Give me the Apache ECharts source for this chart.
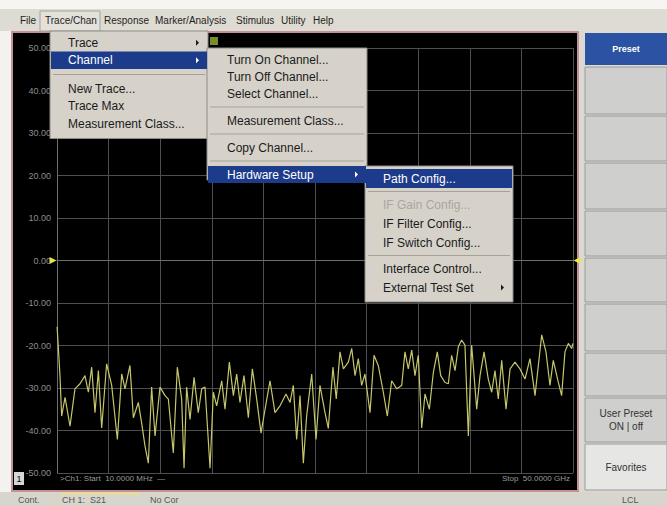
<!DOCTYPE html>
<html>
<head>
<meta charset="utf-8">
<style>
html,body{margin:0;padding:0;background:#dcd9d2;}
#chart{width:667px;height:506px;}
</style>
<script src="https://cdn.jsdelivr.net/npm/echarts@6/dist/echarts.min.js"></script>
</head>
<body>
<div id="chart"></div>
<script>
// ---------- data ----------
var freqGHz = [0.01,0.29,0.45,0.78,1.26,1.74,2.23,2.71,3.04,3.36,3.68,4.01,4.33,4.81,5.30,5.85,6.27,6.59,7.07,7.40,
  7.88,8.20,8.53,8.85,9.17,9.50,9.98,10.47,10.79,11.27,11.66,12.08,12.31,12.56,12.89,13.28,13.69,14.02,14.34,14.83,
  15.15,15.47,15.96,16.28,16.70,17.09,17.41,17.73,18.12,18.54,18.93,19.35,19.77,20.16,20.64,21.12,21.61,22.19,22.58,22.90,
  23.22,23.55,23.87,24.19,24.68,25.10,25.48,25.97,26.29,26.74,27.06,27.42,
  27.75,28.23,28.56,28.88,29.20,29.52,29.84,30.33,30.72,31.13,31.62,32.01,32.43,32.92,33.40,33.72,34.04,34.37,34.69,35.01,
  35.34,35.66,36.08,36.47,36.85,37.18,37.60,37.92,38.24,38.57,38.89,39.21,39.53,39.86,40.18,40.67,40.99,41.38,41.79,42.12,
  42.44,42.76,43.09,43.51,43.90,44.38,44.86,45.35,45.83,46.32,46.64,46.97,47.38,47.77,48.09,48.58,48.90,49.22,49.55,49.87,50.0];
var s21dB = [-15.6,-27.1,-36.6,-32.2,-39.0,-30.2,-29.0,-27.1,-31.0,-25.1,-35.8,-25.9,-39.4,-24.3,-29.4,-42.1,-26.7,-30.2,-24.7,-37.0,
  -33.4,-38.2,-43.7,-47.7,-29.8,-41.3,-29.8,-31.8,-32.6,-45.3,-25.1,-32.6,-48.9,-29.8,-37.4,-27.5,-35.8,-30.2,-29.8,-48.9,
  -31.0,-34.2,-28.3,-35.0,-23.9,-31.8,-26.7,-33.4,-27.1,-37.0,-25.5,-32.6,-40.6,-35.0,-28.3,-35.8,-34.2,-31.4,-33.4,-29.4,
  -42.1,-31.8,-47.7,-36.6,-26.7,-42.1,-29.4,-35.8,-39.5,-25.1,-32.6,-21.5,
  -25.5,-23.9,-20.7,-27.1,-23.1,-29.4,-26.7,-35.8,-22.3,-24.7,-31.0,-36.6,-28.3,-30.2,-29.4,-21.5,-25.5,-21.1,-27.1,-22.3,
  -39.4,-31.4,-35.0,-26.3,-21.5,-27.1,-28.7,-29.0,-22.3,-25.9,-20.3,-18.7,-19.9,-41.3,-19.9,-35.0,-27.1,-21.5,-27.9,-31.0,
  -25.9,-32.6,-23.5,-35.0,-25.5,-23.9,-25.5,-27.9,-23.1,-31.8,-24.7,-17.5,-21.5,-29.4,-23.5,-28.7,-31.8,-21.5,-19.5,-20.7,-19.5];
var yMin = -50, yMax = 50, yStep = 10;
var menuBarItems = ['File','Trace/Chan','Response','Marker/Analysis','Stimulus','Utility','Help'];
var traceMenu = ['Trace','Channel','-','New Trace...','Trace Max','Measurement Class...'];
var channelMenu = ['Turn On Channel...','Turn Off Channel...','Select Channel...','-','Measurement Class...','-','Copy Channel...','-','Hardware Setup'];
var hwMenu = ['Path Config...','-','IF Gain Config...','IF Filter Config...','IF Switch Config...','-','Interface Control...','External Test Set'];
var softkeys = ['Preset','','','','','','','','User Preset\nON | off','Favorites'];
var startLabel = '>Ch1: Start  10.0000 MHz  \u2014';
var stopLabel = 'Stop  50.0000 GHz';
var statusItems = ['Cont.','CH 1:  S21','No Cor','LCL'];

// ---------- layout helpers ----------
var FONT = 'Liberation Sans, Arial, sans-serif';
var g = [];
function rect(x,y,w,h,fill,stroke,z,lw){g.push({type:'rect',z:z,shape:{x:x,y:y,width:w,height:h},style:{fill:fill,stroke:stroke||null,lineWidth:lw||1}});}
function line(x1,y1,x2,y2,col,z){g.push({type:'line',z:z,shape:{x1:x1,y1:y1,x2:x2,y2:y2},style:{stroke:col,lineWidth:1}});}
function txt(x,y,s,size,col,z,align,weight){g.push({type:'text',z:z,x:x,y:y,style:{text:s,fill:col,font:(weight||'normal')+' '+size+'px '+FONT,align:align||'left',verticalAlign:'middle',lineHeight:size+3}});}
function arrow(x,y,col,z){g.push({type:'polygon',z:z,shape:{points:[[x,y-3],[x+3,y],[x,y+3]]},style:{fill:col}});}

// page pieces
rect(0,0,667,9,'#f6f5f2',null,-20);
rect(0,9,667,22,'#dedbd3',null,-20);
rect(0,31,11,462,'#f4f2ee',null,-20);
rect(0,492,667,14,'#d8d5cc',null,-20);
rect(60,492,80,3,'#e6dca0',null,-19);
// display area
rect(12,32,566,459,'#000000','#c4909a',-15,2);
// menubar text
var mbX = [20,45,104,155,236,281,313];
rect(40,11,60,20,'#e4e1da','#a6a39c',-14);
menuBarItems.forEach(function(s,i){txt(mbX[i],20,s,10,'#1e1e1e',-13);});
// small trace marker icon
rect(210,37,8,8,'#7b8c2c',null,50);
// channel number box
rect(14,472,10,13,'#d6d6d6',null,50);
txt(19,478.5,'1',9,'#000',51,'center');
txt(60,478,startLabel,8,'#9a9a9a',50);
txt(570,478,stopLabel,8,'#9a9a9a',50,'right');
// status bar
var stX=[18,62,150,622];
statusItems.forEach(function(s,i){txt(stX[i],500,s,9,'#555',-10);});

// softkeys
var skTop=[33,67,116,163,211,258,304,353,398,444];
var skBot=[65,114,161,209,256,302,351,396,442,490];
softkeys.forEach(function(s,i){
  var fill = i===0 ? '#2b52a3' : (i===9 ? '#e6e6e4' : '#cfcfcd');
  rect(585,skTop[i],82,skBot[i]-skTop[i],fill,i===0?null:'#9a9a98',-12);
  if(s) txt(626,(skTop[i]+skBot[i])/2,s,i===0?9:10,i===0?'#ffffff':'#333333',-11,'center',i===0?'bold':'normal');
});

// dropdown menus
var MBG='#d6d2ca', HL='#1d3b8b';
function menu(x,y,w,items,rowH,sepH,textX,hiIndex,arrowIdx,disabledIdx,bottomPad){
  var h=0; items.forEach(function(s){h+= s==='-'?sepH:rowH;}); h+=bottomPad;
  rect(x,y,w,h,MBG,'#8e8b84',60);
  var cy=y+3;
  items.forEach(function(s,i){
    if(s==='-'){line(x+3,cy+sepH/2,x+w-3,cy+sepH/2,'#a5a29a',61);cy+=sepH;return;}
    var hi=(i===hiIndex);
    if(hi) rect(x+1,cy,w-2,rowH,HL,null,61);
    var col = hi?'#ffffff':(disabledIdx.indexOf(i)>=0?'#aaa69e':'#1a1a1a');
    txt(textX,cy+rowH/2,s,12,col,62);
    if(arrowIdx.indexOf(i)>=0) arrow(x+w-12,cy+rowH/2,hi?'#ffffff':'#1a1a1a',62);
    cy+=rowH;
  });
}
menu(50,31,158,traceMenu,17.5,11,68,1,[0,1],[],9);
menu(207,48,160,channelMenu,17,10,227,8,[8],[],0);
menu(365,166,148,hwMenu,19,7,383,0,[7],[2],8);

// ---------- chart ----------
var chart = echarts.init(document.getElementById('chart'), null, {renderer:'svg', width:667, height:506});
var pts = freqGHz.map(function(f,i){return [f,s21dB[i]];});
chart.setOption({
  backgroundColor:'transparent',
  animation:false,
  grid:{left:57,right:94,top:48,bottom:33,containLabel:false},
  xAxis:{type:'value',min:0,max:50,interval:5,
    axisLine:{show:true,lineStyle:{color:'#6e6e6e'}},axisTick:{show:false},axisLabel:{show:false},
    splitLine:{show:true,lineStyle:{color:'#4e4e4e',width:1}}},
  yAxis:{type:'value',min:yMin,max:yMax,interval:yStep,
    axisLine:{show:true,lineStyle:{color:'#6e6e6e'}},axisTick:{show:false},
    axisLabel:{color:'#8e8e8e',fontSize:9,fontFamily:FONT,margin:6,formatter:function(v){return v.toFixed(2);}},
    splitLine:{show:true,lineStyle:{color:'#4e4e4e',width:1}}},
  series:[{type:'line',data:pts,showSymbol:false,z:5,
    lineStyle:{color:'#c6c66a',width:1.2},
    markPoint:{silent:true,label:{show:false},itemStyle:{color:'#e6e64a'},
      data:[{coord:[0,0],symbol:'triangle',symbolRotate:-90,symbolSize:7,symbolOffset:[-4,0]},
            {coord:[50,0],symbol:'triangle',symbolRotate:90,symbolSize:7,symbolOffset:[4,0]}]}}],
  graphic:g
});
</script>
</body>
</html>
